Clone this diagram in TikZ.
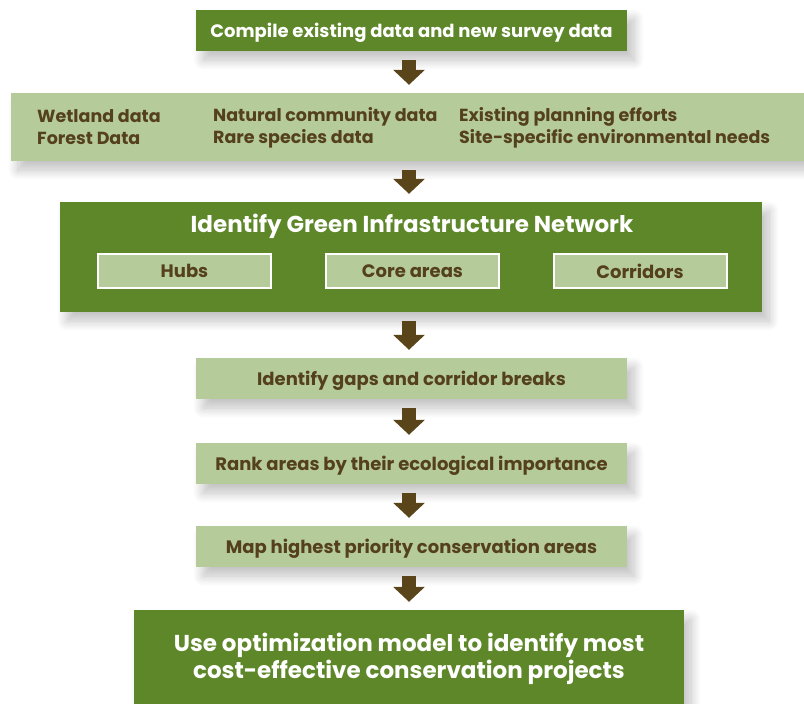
\documentclass[tikz,border=0pt]{standalone}
\usepackage{fontspec}
\setmainfont{Poppins}
\usepackage{tikz}
\usetikzlibrary{arrows.meta, positioning, shadows.blur}
\definecolor{LeafGreen}{HTML}{5E8729}
\definecolor{SageGreen}{HTML}{B5CC9A}
\definecolor{BarkBrown}{HTML}{55401D}
\definecolor{ArrowBrown}{HTML}{5A4419}
\tikzset{
  softshadow/.style={blur shadow={shadow xshift=7pt, shadow yshift=-9pt, shadow blur radius=10pt, shadow blur steps=12, shadow opacity=25}},
  darkbox/.style={rectangle, draw=none, fill=LeafGreen, text=white, text depth=0pt, font=\bfseries\fontsize{18}{22}\selectfont, align=center, softshadow},
  lightbox/.style={rectangle, draw=none, fill=SageGreen, text=BarkBrown, text depth=0pt, font=\bfseries\fontsize{18}{22}\selectfont, align=center, softshadow},
  subbox/.style={rectangle, draw=white, line width=2pt, fill=SageGreen, text=BarkBrown, text depth=0pt, minimum width=173pt, minimum height=34pt, font=\bfseries\fontsize{18}{20}\selectfont},
  listtext/.style={anchor=west, inner sep=0pt, align=left, text=BarkBrown, font=\bfseries\fontsize{17.5}{22}\selectfont},
  blockarrow/.style={ArrowBrown, line width=14pt, shorten <=9pt, shorten >=8pt, -{Triangle[width=31pt, length=15pt]}}
}
\begin{document}
\begin{tikzpicture}[x=1pt, y=-1pt]
  \useasboundingbox (0,0) rectangle (804,704);
  \clip (0,0) rectangle (804,704);

  % Steps
  \node[darkbox, minimum width=431pt, minimum height=41pt] (compile) at (411.5,30.5) {Compile existing data and new survey data};
  \node[lightbox, minimum width=812pt, minimum height=68pt] (sources) at (417,127) {};
  \node[darkbox, minimum width=702pt, minimum height=110pt] (network) at (411,257) {};
  \node[lightbox, minimum width=431pt, minimum height=41pt] (gaps) at (411.5,378.5) {Identify gaps and corridor breaks};
  \node[lightbox, minimum width=431pt, minimum height=41pt] (rank) at (411.5,463.5) {Rank areas by their ecological importance};
  \node[lightbox, minimum width=431pt, minimum height=41pt] (priority) at (411.5,546.5) {Map highest priority conservation areas};
  \node[darkbox, minimum width=550pt, minimum height=100pt] (optimize) at (409,660) {};
  \node[text=white, font=\bfseries\fontsize{23}{27}\selectfont, align=center] (optimizetext) at (409,659) {Use optimization model to identify most\\cost-effective conservation projects};

  % Data sources
  \node[listtext] (wetland) at (37,127.5) {Wetland data\\Forest Data};
  \node[listtext] (community) at (213,127.5) {Natural community data\\Rare species data};
  \node[listtext] (planning) at (459,127.5) {Existing planning efforts\\Site-specific environmental needs};

  % Network parts
  \node[text=white, font=\bfseries\fontsize{23}{26}\selectfont] (networktitle) at (412,226.5) {Identify Green Infrastructure Network};
  \node[subbox] (hubs) at (184.5,271) {Hubs};
  \node[subbox] (core) at (412.5,271) {Core areas};
  \node[subbox] (corridors) at (640,271) {Corridors};

  % Arrows
  \draw[blockarrow] (409,0 |- compile.south) -- (409,0 |- sources.north);
  \draw[blockarrow] (409,0 |- sources.south) -- (409,0 |- network.north);
  \draw[blockarrow] (409,0 |- network.south) -- (409,0 |- gaps.north);
  \draw[blockarrow] (409,0 |- gaps.south) -- (409,0 |- rank.north);
  \draw[blockarrow] (409,0 |- rank.south) -- (409,0 |- priority.north);
  \draw[blockarrow] (409,0 |- priority.south) -- (409,0 |- optimize.north);
\end{tikzpicture}
\end{document}
